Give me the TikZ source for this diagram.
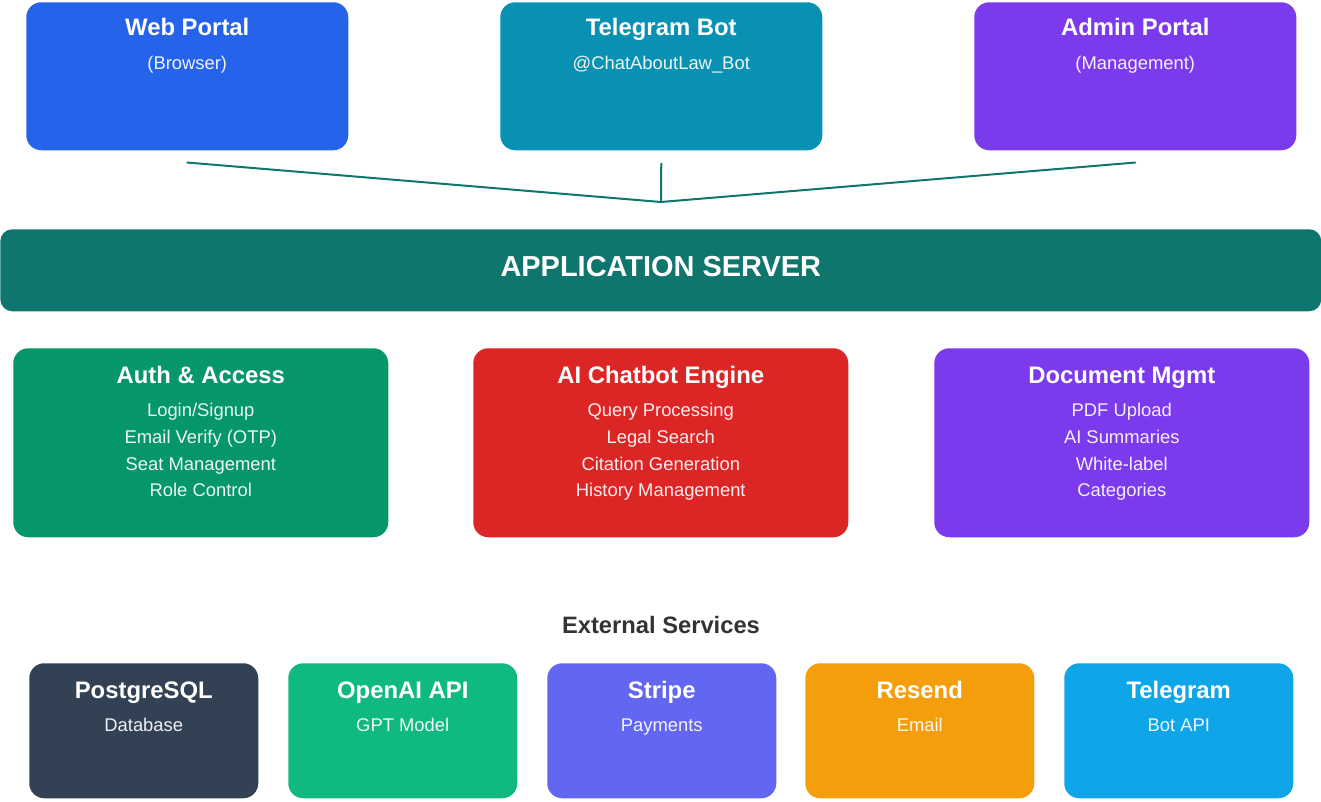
\documentclass[tikz,border=0pt]{standalone}
\usepackage{fontspec}
\setmainfont{Liberation Sans}
\usetikzlibrary{positioning,calc}

\definecolor{webblue}{HTML}{2563EB}
\definecolor{botcyan}{HTML}{0891B2}
\definecolor{adminpurple}{HTML}{7C3AED}
\definecolor{serverteal}{HTML}{0F766E}
\definecolor{authgreen}{HTML}{059669}
\definecolor{chatred}{HTML}{DC2626}
\definecolor{docpurple}{HTML}{7C3AED}
\definecolor{pgslate}{HTML}{334155}
\definecolor{aigreen}{HTML}{10B981}
\definecolor{stripeindigo}{HTML}{6366F1}
\definecolor{resendamber}{HTML}{F59E0B}
\definecolor{tgsky}{HTML}{0EA5E9}
\definecolor{headgrey}{HTML}{333333}

\tikzset{
  box/.style={rounded corners=11.25pt,inner sep=0pt,anchor=north west},
  title/.style={text=white,font=\bfseries\fontsize{17.9}{20}\selectfont,anchor=base},
  sub/.style={text=white,text opacity=0.92,font=\fontsize{13.8}{16}\selectfont,anchor=base},
  link/.style={draw=serverteal,line width=1.5pt,line cap=round,line join=round}
}

\begin{document}
\begin{tikzpicture}[x=0.75pt,y=-0.75pt]
        \useasboundingbox (0,0) rectangle (1321,802);

        %% Clients.
        \foreach \name/\x/\col/\head/\info in {
            web/26/webblue/Web Portal/(Browser),
            bot/500/botcyan/Telegram Bot/@ChatAboutLaw\_Bot,
            admin/974/adminpurple/Admin Portal/(Management)} {
          \node[box,fill=\col,minimum width=241.5pt,minimum height=111pt] (\name) at (\x,2) {};
          \node[title] (\name title) at ($(\name.north)+(0,34)$) {\head};
          \node[sub] (\name info) at ($(\name.north)+(0,68)$) {\info};
        }

        % Merge into server.
        \coordinate (merge) at (661,202);
        \coordinate (webend) at ($(web.south)+(0,12)$);
        \coordinate (botend) at ($(bot.south)+(0,13)$);
        \coordinate (adminend) at ($(admin.south)+(0,12)$);
        \draw[link] (webend) -- (merge) -- (adminend);
        \draw[link] (botend) -- (merge);

        %% Application server.
        \node[box,rounded corners=9pt,fill=serverteal,minimum width=990.75pt,minimum height=61.5pt] (server) at (0,229) {};
        \node[text=white,font=\bfseries\fontsize{21.7}{24}\selectfont,anchor=base] (servertitle)
          at ($(server.north)+(0,48)$) {APPLICATION SERVER};

        %% Server modules.
        \foreach \name/\x/\col/\head/\one/\two/\three/\four in {
            auth/13/authgreen/Auth \& Access/Login\slash Signup/Email Verify (OTP)/Seat Management/Role Control,
            chat/473/chatred/AI Chatbot Engine/Query Processing/Legal Search/Citation Generation/History Management,
            docs/934/docpurple/Document Mgmt/PDF Upload/AI Summaries/White-label/Categories} {
          \node[box,fill=\col,minimum width=281.25pt,minimum height=141.75pt] (\name) at (\x,348) {};
          \node[title] (\name title) at ($(\name.north)+(0,35)$) {\head};
          \node[sub] (\name a) at ($(\name.north)+(0,68)$) {\one};
          \node[sub] (\name b) at ($(\name.north)+(0,95)$) {\two};
          \node[sub] (\name c) at ($(\name.north)+(0,122)$) {\three};
          \node[sub] (\name d) at ($(\name.north)+(0,148)$) {\four};
        }

        %% External services.
        \node[text=headgrey,font=\bfseries\fontsize{17.8}{20}\selectfont,anchor=base] (exthead) at (661,633) {External Services};
        \foreach \name/\x/\col/\head/\info in {
            pg/29/pgslate/PostgreSQL/Database,
            openai/288/aigreen/OpenAI API/GPT Model,
            stripe/547/stripeindigo/Stripe/Payments,
            resend/805/resendamber/Resend/Email,
            tg/1064/tgsky/Telegram/Bot API} {
          \node[box,fill=\col,minimum width=171.75pt,minimum height=101.25pt] (\name) at (\x,663) {};
          \node[title] (\name title) at ($(\name.north)+(0,35)$) {\head};
          \node[sub] (\name info) at ($(\name.north)+(0,68)$) {\info};
        }
      \end{tikzpicture}
\end{document}
